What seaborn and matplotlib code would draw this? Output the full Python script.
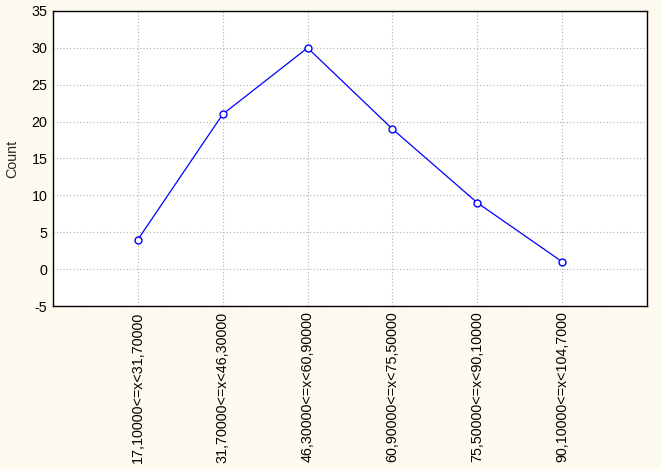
import matplotlib
matplotlib.use("Agg")
import matplotlib.pyplot as plt
import seaborn as sns
import pandas as pd

categories = ["17,10000<=x<31,70000", "31,70000<=x<46,30000", "46,30000<=x<60,90000",
              "60,90000<=x<75,50000", "75,50000<=x<90,10000", "90,10000<=x<104,7000"]
counts = [4, 21, 30, 19, 9, 1]
yticks = [-5, 0, 5, 10, 15, 20, 25, 30, 35]

sns.set_style("white")
plt.rcParams['font.family'] = ['Liberation Sans', 'DejaVu Sans']

df = pd.DataFrame({"pos": range(len(categories)), "Count": counts})

fig = plt.figure(figsize=(6.61, 4.69), dpi=100, facecolor="#FFFAF0")
ax = fig.add_axes([53/661, 1-306/469, (647-53)/661, (306-11)/469])
ax.set_facecolor("white")

sns.lineplot(data=df, x="pos", y="Count", ax=ax, color="#0000FF", linewidth=0.9,
             marker="o", markersize=5, markerfacecolor="white", markeredgecolor="#0000FF",
             markeredgewidth=1.0)

ax.set_xlim(-1, 6)
ax.set_ylim(-5, 35)
ax.set_yticks(yticks)
ax.set_yticklabels([str(v) for v in yticks], fontsize=10.3)
ax.set_xticks(range(len(categories)))
ax.set_xticklabels(categories, rotation=90, fontsize=10.3)
ax.set_xlabel("")
ax.set_ylabel("Count", fontsize=10.3)
ax.yaxis.set_label_coords(-0.056, 0.5)
ax.grid(True, linestyle=(0, (1, 2)), color="#B0B0B0", linewidth=0.8)
ax.set_axisbelow(True)
for s in ax.spines.values():
    s.set_color("black")
    s.set_linewidth(1.0)
ax.tick_params(axis="both", direction="in", length=4, color="black", labelcolor="black", pad=4)

fig.savefig("out.png", dpi=100, facecolor=fig.get_facecolor())
